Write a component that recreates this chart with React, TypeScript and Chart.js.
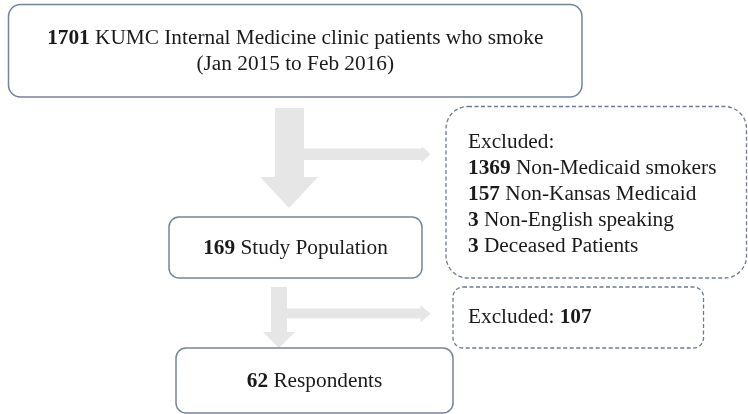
import React, { useEffect, useRef } from "react";
import { Chart, registerables } from "chart.js";

Chart.register(...registerables);

// ---- data ----
const stageCounts = [1701, 169, 62];
const stageLabels = [
  "KUMC Internal Medicine clinic patients who smoke",
  "Study Population",
  "Respondents",
];
const stagePeriod = "(Jan 2015 to Feb 2016)";
const exclusionTitle = "Excluded:";
const exclusionCounts = [1369, 157, 3, 3];
const exclusionLabels = [
  "Non-Medicaid smokers",
  "Non-Kansas Medicaid",
  "Non-English speaking",
  "Deceased Patients",
];
const secondExclusionCount = [107];

// ---- layout (in scale units: x 0..748, y 0..414 top-down) ----
const W = 748;
const H = 414;
const solidBoxes = [
  { x0: 8.5, y0: 4.5, x1: 582, y1: 97, r: 12 },
  { x0: 169, y0: 217, x1: 422, y1: 278, r: 10 },
  { x0: 176, y0: 348, x1: 453, y1: 413, r: 10 },
];
const dashedBoxes = [
  { x0: 446, y0: 106.5, x1: 746.5, y1: 278, r: 22 },
  { x0: 453, y0: 287, x1: 703.5, y1: 348, r: 10 },
];
const arrows = [
  { sx0: 275, sx1: 304, top: 108, headBase: 177, hx0: 260, hx1: 318, tip: 208, by0: 148.5, by1: 160, bHead: 421.5, bTip: 430.5, bhy0: 146, bhy1: 162.5 },
  { sx0: 271, sx1: 287, top: 287, headBase: 332, hx0: 263, hx1: 295, tip: 348, by0: 308.5, by1: 318.5, bHead: 420.5, bTip: 430.5, bhy0: 305, bhy1: 322.5 },
];

const FONT_FAMILY = '"Liberation Serif"';
const FONT_SIZE = 21.3;
const TEXT_COLOR = "#1a1a1a";

type Seg = { t: string; b?: boolean };

function drawRich(ctx: CanvasRenderingContext2D, segs: Seg[], x: number, y: number, align: "left" | "center") {
  const widths = segs.map((s) => {
    ctx.font = `${s.b ? "bold " : ""}${FONT_SIZE}px ${FONT_FAMILY}`;
    return ctx.measureText(s.t).width;
  });
  const total = widths.reduce((a, b) => a + b, 0);
  let cx = align === "center" ? x - total / 2 : x;
  ctx.textBaseline = "middle";
  ctx.textAlign = "left";
  ctx.fillStyle = TEXT_COLOR;
  segs.forEach((s, i) => {
    ctx.font = `${s.b ? "bold " : ""}${FONT_SIZE}px ${FONT_FAMILY}`;
    ctx.fillText(s.t, cx, y);
    cx += widths[i];
  });
}

function roundRect(ctx: CanvasRenderingContext2D, x0: number, y0: number, x1: number, y1: number, r: number) {
  ctx.beginPath();
  ctx.moveTo(x0 + r, y0);
  ctx.lineTo(x1 - r, y0);
  ctx.arcTo(x1, y0, x1, y0 + r, r);
  ctx.lineTo(x1, y1 - r);
  ctx.arcTo(x1, y1, x1 - r, y1, r);
  ctx.lineTo(x0 + r, y1);
  ctx.arcTo(x0, y1, x0, y1 - r, r);
  ctx.lineTo(x0, y0 + r);
  ctx.arcTo(x0, y0, x0 + r, y0, r);
  ctx.closePath();
}

const flowPlugin = {
  id: "flow",
  afterDatasetsDraw(chart: any) {
    const ctx: CanvasRenderingContext2D = chart.ctx;
    const xs = chart.scales.x;
    const ys = chart.scales.y;
    const px = (v: number) => xs.getPixelForValue(v);
    const py = (v: number) => ys.getPixelForValue(v);
    ctx.save();

    // arrows
    ctx.fillStyle = "#e6e6e6";
    arrows.forEach((a) => {
      const cxm = (a.hx0 + a.hx1) / 2;
      ctx.fillRect(px(a.sx0), py(a.top), px(a.sx1) - px(a.sx0), py(a.headBase) - py(a.top) + 0.5);
      ctx.beginPath();
      ctx.moveTo(px(a.hx0), py(a.headBase));
      ctx.lineTo(px(a.hx1), py(a.headBase));
      ctx.lineTo(px(cxm), py(a.tip));
      ctx.closePath();
      ctx.fill();
      ctx.fillRect(px(a.sx1) - 0.5, py(a.by0), px(a.bHead) - px(a.sx1) + 1, py(a.by1) - py(a.by0));
      ctx.beginPath();
      ctx.moveTo(px(a.bHead), py(a.bhy0));
      ctx.lineTo(px(a.bTip), py((a.bhy0 + a.bhy1) / 2));
      ctx.lineTo(px(a.bHead), py(a.bhy1));
      ctx.closePath();
      ctx.fill();
    });

    // solid boxes
    ctx.strokeStyle = "#76849a";
    ctx.lineWidth = 1.5;
    ctx.setLineDash([]);
    solidBoxes.forEach((b) => {
      roundRect(ctx, px(b.x0), py(b.y0), px(b.x1), py(b.y1), b.r);
      ctx.fillStyle = "#ffffff";
      ctx.fill();
      ctx.stroke();
    });

    // dashed boxes
    ctx.strokeStyle = "#6c7b92";
    ctx.lineWidth = 1.3;
    ctx.setLineDash([4, 2.5]);
    dashedBoxes.forEach((b) => {
      roundRect(ctx, px(b.x0), py(b.y0), px(b.x1), py(b.y1), b.r);
      ctx.stroke();
    });
    ctx.setLineDash([]);

    // texts in stage boxes
    const b0 = solidBoxes[0];
    const c0 = (b0.x0 + b0.x1) / 2;
    drawRich(ctx, [{ t: String(stageCounts[0]), b: true }, { t: " " + stageLabels[0] }], px(c0), py(38), "center");
    drawRich(ctx, [{ t: stagePeriod }], px(c0), py(64), "center");
    for (let i = 1; i < 3; i++) {
      const b = solidBoxes[i];
      drawRich(
        ctx,
        [{ t: String(stageCounts[i]), b: true }, { t: " " + stageLabels[i] }],
        px((b.x0 + b.x1) / 2),
        py((b.y0 + b.y1) / 2 + 0.5),
        "center"
      );
    }

    // exclusion list
    const lx = 468;
    const firstY = 142;
    const step = 26;
    drawRich(ctx, [{ t: exclusionTitle }], px(lx), py(firstY), "left");
    exclusionCounts.forEach((n, i) => {
      drawRich(ctx, [{ t: String(n), b: true }, { t: " " + exclusionLabels[i] }], px(lx), py(firstY + step * (i + 1)), "left");
    });
    const d2 = dashedBoxes[1];
    drawRich(ctx, [{ t: exclusionTitle + " " }, { t: String(secondExclusionCount[0]), b: true }], px(468), py((d2.y0 + d2.y1) / 2), "left");

    ctx.restore();
  },
};

export default function App() {
  const ref = useRef<HTMLCanvasElement | null>(null);
  useEffect(() => {
    if (!ref.current) return;
    const chart = new Chart(ref.current, {
      type: "scatter",
      data: {
        datasets: [
          {
            data: solidBoxes.map((b, i) => ({ x: (b.x0 + b.x1) / 2, y: (b.y0 + b.y1) / 2, n: stageCounts[i] })) as any,
            pointRadius: 0,
            showLine: false,
          },
        ],
      },
      options: {
        animation: false,
        responsive: false,
        maintainAspectRatio: false,
        layout: { padding: 0 },
        events: [],
        plugins: { legend: { display: false }, tooltip: { enabled: false }, title: { display: false } },
        scales: {
          x: { type: "linear", min: 0, max: W, display: false },
          y: { type: "linear", min: 0, max: H, reverse: true, display: false },
        },
      },
      plugins: [flowPlugin],
    });
    return () => chart.destroy();
  }, []);
  return (
    <div style={{ position: "fixed", left: 0, top: 0, width: W, height: H, background: "#fff" }}>
      <canvas ref={ref} width={W} height={H} style={{ width: W, height: H, display: "block" }} />
    </div>
  );
}
